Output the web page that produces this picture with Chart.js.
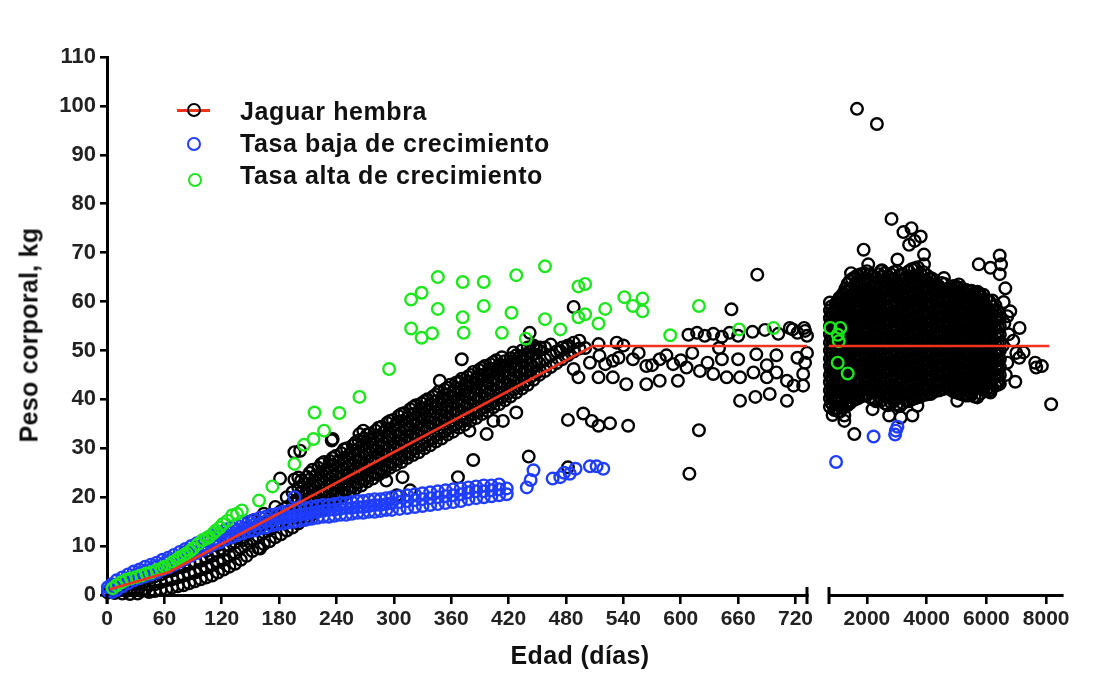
<!DOCTYPE html>
<html><head><meta charset="utf-8">
<script src="https://cdn.jsdelivr.net/npm/chart.js@4.4.1/dist/chart.umd.min.js"></script>
<style>
html,body{margin:0;padding:0;background:#fff;}
#wrap{position:relative;width:1117px;height:682px;overflow:hidden;font-family:"Liberation Sans",Arial,Helvetica,sans-serif;}
canvas{position:absolute;top:0;}
#cL{left:0;}
#cR{left:815px;}
.t{position:absolute;font-weight:bold;color:#111;white-space:nowrap;font-size:25px;line-height:25px;}
.leg{letter-spacing:0.6px;}
.mk{position:absolute;box-sizing:border-box;width:14px;height:14px;border-radius:50%;border:2.6px solid #000;background:transparent;}
</style></head>
<body>
<div id="wrap">
<canvas id="cL" width="830" height="682"></canvas>
<canvas id="cR" width="302" height="682"></canvas>
<div style="position:absolute;left:177px;top:109px;width:33px;height:2.6px;background:#f0321e;"></div>
<div class="mk" style="left:187px;top:103px;"></div>
<div class="mk" style="left:187px;top:136.5px;border-color:#1f3dff;"></div>
<div class="mk" style="left:187.5px;top:173px;border-color:#1ee61e;"></div>
<div class="t leg" style="left:240px;top:98.5px;">Jaguar hembra</div>
<div class="t leg" style="left:240px;top:130.5px;">Tasa baja de crecimiento</div>
<div class="t leg" style="left:240px;top:162.5px;">Tasa alta de crecimiento</div>
<div class="t" style="left:580px;top:643px;transform:translateX(-50%);letter-spacing:0.4px;">Edad (días)</div>
<div class="t" style="left:29px;top:335px;transform:translate(-50%,-50%) rotate(-90deg);letter-spacing:0.3px;">Peso corporal, kg</div>
</div>
<script>
// ---------- tick labels ----------
const yTicks = [0,10,20,30,40,50,60,70,80,90,100,110];
const xTicksLeft = [0,60,120,180,240,300,360,420,480,540,600,660,720];
const xTicksRight = [2000,4000,6000,8000];

// ---------- fitted curve (Jaguar hembra) ----------
const fitAgeLeft = [3, 65, 508, 732];
const fitKgLeft = [1.2, 4.7, 50.9, 50.9];
const fitAgeRight = [730, 8100];
const fitKgRight = [50.9, 50.9];

// ---------- Tasa alta de crecimiento (green) ----------
const highAge = [6,10,15,20,25,31,36,41,46,52,57,60,65,69,73,76,80,83,87,90,95,100,104,107,111,114,118,121,126,131,136,141,159,173,196,206,216,217,227,243,264,295,318,318,329,329,340,346,346,372,372,373,394,394,413,423,428,438,458,458,474,493,493,500,500,514,521,541,550,560,560,589,619,661,697,777,1110,1057,1023,1357,1023];
const highKg = [1.4,2.0,2.6,3.1,3.4,3.7,4.0,4.4,4.6,5.1,5.4,5.8,6.1,6.8,7.2,7.7,8.1,8.5,9.0,9.5,10.4,11.2,11.6,11.9,12.6,13.2,13.8,14.5,15.2,16.3,16.6,17.3,19.3,22.2,26.8,30.7,31.9,37.3,33.6,37.2,40.5,46.2,60.4,54.5,61.8,52.6,53.5,65.0,58.5,64.0,56.8,53.6,64.0,59.1,53.6,57.7,65.4,52.4,67.2,56.4,54.3,63.1,56.8,63.6,57.4,55.5,58.5,60.9,59.1,60.6,58.0,53.1,59.1,54.3,54.6,54.6,54.6,51.9,47.5,45.3,53.2];

// ---------- Tasa baja de crecimiento (blue) ----------
const lowBand = [
 [1,[0.8,1.6]],[5,[0.6,1.4,2.2]],[10,[1.0,2.0,3.0]],[16,[1.8,2.8,3.6]],[22,[2.4,3.4,4.2]],[28,[3.0,3.8,4.8]],
 [34,[3.4,4.4,5.2]],[40,[3.8,4.8,5.8]],[46,[4.2,5.2,6.2]],[52,[4.6,5.8,6.6]],[58,[5.2,6.2,7.2]],[64,[5.6,6.8,7.6]],
 [70,[6.2,7.2,8.2]],[76,[6.8,7.8,8.8]],[82,[7.4,8.4,9.4]],[88,[8.0,9.0,10.0]],[94,[8.6,9.6,10.6]],[100,[9.2,10.2,11.2]],
 [106,[9.8,10.8,11.8]],[112,[10.4,11.4,12.2]],[118,[10.8,12.0,12.8]],[124,[11.4,12.4,13.4]],[130,[11.8,12.8,13.8]],
 [136,[12.2,13.2,14.2]],[142,[12.6,13.6,14.6]],[148,[13.0,14.0,15.0]],[154,[13.2,14.4,15.4]],[160,[13.6,14.6,15.8]],
 [166,[13.8,15.0,16.0]],[172,[14.2,15.2,16.4]],[178,[14.4,15.6,16.6]],[184,[14.6,15.8,17.0]],[190,[14.8,16.0,17.2]],
 [196,[15.0,16.2,17.4]],[202,[15.2,16.4,17.6]],[208,[15.4,16.6,17.8]],[214,[15.6,16.8,18.0]],[220,[15.8,17.0,18.2]],
 [226,[16.0,17.2,18.4]],[232,[16.0,17.4,18.4]],[238,[16.2,17.4,18.6]],[244,[16.4,17.6,18.8]],[250,[16.4,17.8,18.8]],
 [256,[16.6,17.8,19.0]],[262,[16.8,18.0,19.2]],[268,[16.8,18.0,19.2]],[274,[17.0,18.2,19.4]],[280,[17.0,18.4,19.6]],
 [286,[17.2,18.4,19.6]],[292,[17.4,18.6,19.8]],[298,[17.4,18.8,20.0]],[306,[17.6,19.0,20.2]],[314,[17.8,19.2,20.4]],
 [322,[18.0,19.4,20.6]],[330,[18.2,19.6,20.8]],[338,[18.4,19.8,21.0]],[346,[18.6,20.0,21.2]],[354,[18.8,20.2,21.4]],
 [362,[19.0,20.4,21.6]],[370,[19.2,20.6,21.8]],[378,[19.6,21.0,22.0]],[386,[19.8,21.2,22.2]],[394,[20.0,21.2,22.4]],
 [402,[20.2,21.4,22.4]],[410,[20.4,21.6,22.6]],[418,[20.6,21.8]]
];
const lowScatter = [[196,20.0],[439,22.0],[443,23.5],[446,25.5],[466,23.8],[474,24.1],[478,25.0],[484,24.8],[490,25.8],[505,26.3],[512,26.3],[519,25.8],
 [967,27.2],[2222,32.4],[2944,32.8],[2967,33.6],[3022,34.4]];

// ---------- Jaguar hembra (black), first two years ----------
const youngBand = [
 [1,[0.5]],[3,[1.2]],[5,[0.8]],[6,[2.0]],[8,[0.4]],[10,[1.5]],[12,[0.9]],[14,[2.2]],[16,[0.3]],[18,[1.4]],[20,[0.8]],
 [22,[2.4]],[24,[0.2]],[26,[1.5]],[28,[0.9]],[30,[2.8]],[32,[0.3]],[34,[1.6]],[36,[0.8]],[38,[2.6]],[40,[1.2]],
 [44,[0.6,2.0,3.4]],[50,[0.8,2.2,3.8]],[56,[1.0,2.6,4.2]],[62,[1.2,3.0,4.8]],[68,[1.5,3.2,5.0]],[74,[1.8,3.6,5.6]],
 [80,[2.0,4.0,5.8,7.2]],[86,[2.4,4.4,6.4]],[92,[2.8,4.6,6.8,8.6]],[98,[3.2,5.2,7.0]],[104,[3.6,5.6,7.6,9.0]],
 [110,[4.0,6.2,8.0]],[116,[4.6,6.8,8.8,10.2]],[122,[5.2,7.2,9.2]],[128,[5.8,8.0,10.0,11.6]],[134,[6.4,8.6,10.8]],
 [140,[7.2,9.6,11.6,13.0]],[146,[8.0,10.4,12.4]],[152,[9.0,11.4,13.4,15.2]],[158,[9.6,12.0,14.0]],
 [164,[10.4,12.8,14.8,16.6]],[170,[11.0,13.4,15.6]],[176,[11.8,14.2,16.4,18.0]],[182,[12.4,15.0,17.2]],
 [188,[13.2,15.8,18.0,20.0]],[194,[13.8,16.4,18.8,21.0]],[200,[14.6,17.2,19.6,22.0,24.0]],[206,[15.4,18.0,20.4,22.8]],
 [212,[16.0,18.8,21.2,23.6,25.0]],[218,[16.8,19.6,22.0,24.4]],[224,[17.4,20.4,22.8,25.0,26.8]],[230,[18.2,21.0,23.6,25.8]],
 [236,[19.0,21.8,24.4,26.6,28.0]],[242,[19.6,22.6,25.0,27.4]],[248,[20.4,23.2,25.8,28.0,29.8]],[254,[21.0,24.0,26.6,28.8]],
 [260,[21.8,24.8,27.4,29.6,31.2]],[266,[22.4,25.4,28.0,30.4]],[272,[23.2,26.2,28.8,31.0,32.8]],[278,[23.8,27.0,29.6,31.8]],
 [284,[24.6,27.6,30.4,32.6,34.2]],[290,[25.2,28.4,31.0,33.4]],[296,[26.0,29.0,31.8,34.0,35.6]],[302,[26.6,29.8,32.6,34.8]],
 [308,[27.2,30.4,33.2,35.6,37.0]],[314,[28.0,31.2,34.0,36.2]],[320,[28.6,31.8,34.8,37.0,38.4]],[326,[29.2,32.6,35.4,37.6]],
 [332,[30.0,33.2,36.2,38.2,39.6]],[338,[30.6,34.0,36.8,39.0]],[344,[31.4,34.6,37.4,39.6,41.0]],[350,[32.0,35.4,38.2,40.2]],
 [356,[32.8,36.0,38.8,41.0,42.4]],[362,[33.4,36.8,39.6,41.6]],[368,[34.2,37.4,40.2,42.2,43.6]],[374,[34.8,38.2,41.0,43.0]],
 [380,[35.6,38.8,41.6,43.6,45.0]],[386,[36.2,39.6,42.4,44.2]],[392,[37.0,40.2,43.0,45.0,46.4]],[398,[37.6,41.0,43.8,45.6]],
 [404,[38.4,41.6,44.4,46.2,47.6]],[410,[39.0,42.4,45.2,47.0]],[416,[39.8,43.0,45.8,47.8]],[422,[40.6,43.8,46.6,48.4]],
 [428,[41.4,44.4,47.2,49.0]],[434,[42.2,45.2,48.0,50.0]],[440,[43.0,45.8,48.6,50.6]],[446,[44.0,46.6,49.2,51.0]],
 [452,[45.0,47.4,50.0]],[458,[45.8,48.2,50.6]],[464,[46.6,49.0,51.2]],[470,[47.4,49.8]],[476,[48.2,50.6]],
 [482,[49.0,51.0]],[488,[49.8,51.6]],[494,[50.4,52.0]]
];
const youngBandMid = [
 [203,[16.0,18.6,21.0,23.4]],[209,[16.8,19.4,21.8,24.2]],[215,[17.4,20.2,22.6,25.6]],[221,[18.0,21.0,23.4,26.0]],
 [227,[18.8,21.6,24.2,27.2]],[233,[19.4,22.4,25.0,27.4]],[239,[20.2,23.0,25.8,28.4]],[245,[20.8,23.8,26.4,29.0]],
 [251,[21.6,24.4,27.2,30.0]],[257,[22.2,25.2,28.0,30.6]],[263,[23.0,25.8,28.6,31.6]],[269,[23.6,26.6,29.4,32.0]],
 [275,[24.4,27.4,30.2,33.0]],[281,[25.0,28.0,31.0,33.6]],[287,[25.8,28.8,31.6,34.4]],[293,[26.4,29.6,32.4,35.2]],
 [299,[27.2,30.2,33.2,35.8]],[305,[27.8,31.0,33.8,36.6]],[311,[28.6,31.6,34.6,37.2]],[317,[29.2,32.4,35.4,38.0]],
 [323,[30.0,33.0,36.0,38.8]],[329,[30.6,33.8,36.8,39.2]],[335,[31.4,34.4,37.6,40.0]],[341,[32.0,35.2,38.2,40.6]],
 [347,[32.8,35.8,39.0,41.6]],[353,[33.4,36.6,39.6,42.0]],[359,[34.2,37.4,40.4,43.0]],[365,[34.8,38.0,41.0,43.4]],
 [371,[35.6,38.8,41.8,44.2]],[377,[36.2,39.4,42.4,44.6]],[383,[37.0,40.2,43.2,45.6]],[389,[37.6,40.8,43.8,46.0]],
 [395,[38.4,41.6,44.6,46.8]],[401,[39.0,42.2,45.2,47.2]],[407,[39.8,43.0,46.0,48.0]],[413,[40.4,43.6,46.6,48.6]],
 [419,[41.2,44.4,47.2]],[425,[42.0,45.0,47.8,49.6]],[431,[42.8,45.8,48.6]],[437,[43.6,46.4,49.2]],[443,[44.6,47.2,49.8]],
 [449,[45.4,48.0,50.4]]
];
const youngScatter = [[83,8.8],[142,11.2],[160,9.5],[181,23.8],[196,29.2],[202,29.5],[196,23.6],[235,31.6],[236,31.9],
 [264,32.9],[268,33.6],[292,23.4],[309,24.1],[317,21.4],[303,20.4],[348,43.8],[371,48.2],[367,24.1],[383,27.6],[379,33.6],
 [397,32.9],[404,35.6],[414,35.6],[428,37.3],[441,28.3],[442,53.6],[446,50.6],[453,50.6],[474,49.9],[481,50.6],[488,58.9],
 [482,35.8],[482,26.1],[498,37.1],[507,35.6],[514,34.6],[526,35.1],[545,34.6],[609,24.8],[619,33.7],
 [488,46.2],[493,44.5],[514,44.5],[521,47.2],[529,44.5],[535,48.5],[543,43.1],[550,48.2],[564,43.1],[564,46.8],[578,48.2],
 [578,43.8],[592,47.2],[597,43.8],[606,46.5],[620,45.8],[634,45.2],[643,48.2],[648,44.5],[660,48.2],[662,44.5],[676,45.5],
 [690,44.5],[700,45.5],[711,43.8],[718,42.8],[728,45.2],[730,47.5],[728,42.8],[514,51.3],[533,51.6],[515,48.9],[529,47.9],
 [500,50.5],[505,47.5],[540,51.0],[556,49.5],[570,47.0],[585,49.0],[600,48.0],[612,49.5],[628,47.5],
 [608,53.2],[617,53.6],[625,53.0],[634,53.4],[643,52.8],[651,53.6],[660,53.0],[675,53.8],[688,54.2],[702,53.4],[714,54.6],
 [722,53.6],[730,54.0],[732,53.0],[717,54.3],[729,54.6],[662,39.7],[678,40.5],[693,41.1],[711,39.7],
 [653,58.4],[680,65.5],[679,49.2],[700,49.0],[722,48.5],[732,49.5],[640,50.5],[690,47.0]
];

// ---------- Jaguar hembra (black), adults ----------
const adultBand = [
 [760,[38.5,40.2,41.8,43.5,45.0,46.8,48.3,50.0,51.6,53.3,55.0,56.6,58.2,59.8]],
 [850,[36.8,39.0,40.8,42.4,44.2,45.8,47.4,49.2,50.8,52.4,54.0,55.8,57.4]],
 [960,[38.0,39.8,41.4,43.0,44.8,46.4,48.0,49.6,51.4,53.0,54.6,56.2,58.0,59.6]],
 [1080,[37.4,39.2,40.8,42.6,44.2,45.8,47.6,49.2,50.8,52.6,54.2,55.8,57.4,59.2,60.8]],
 [1200,[38.2,40.0,41.6,43.2,45.0,46.6,48.2,50.0,51.6,53.2,55.0,56.6,58.2,60.0,61.6]],
 [1350,[38.8,40.4,42.2,43.8,45.4,47.2,48.8,50.4,52.2,53.8,55.4,57.2,58.8,60.4,62.2,63.6]],
 [1500,[39.6,41.2,42.8,44.6,46.2,47.8,49.6,51.2,52.8,54.6,56.2,57.8,59.6,61.2,62.8,64.6]],
 [1700,[40.2,41.8,43.6,45.2,46.8,48.6,50.2,51.8,53.6,55.2,56.8,58.6,60.2,61.8,63.6,65.4]],
 [1900,[40.8,42.6,44.2,45.8,47.6,49.2,50.8,52.6,54.2,55.8,57.6,59.2,60.8,62.6,64.2,65.8]],
 [2100,[40.4,42.0,43.8,45.4,47.0,48.8,50.4,52.0,53.8,55.4,57.0,58.8,60.4,62.0,63.8,65.6]],
 [2300,[39.6,41.4,43.0,44.6,46.4,48.0,49.6,51.4,53.0,54.6,56.4,58.0,59.6,61.4,63.0,64.8]],
 [2500,[39.8,41.6,43.2,44.8,46.6,48.2,49.8,51.6,53.2,54.8,56.6,58.2,59.8,61.6,63.2,65.0,66.4]],
 [2700,[38.8,40.6,42.2,43.8,45.6,47.2,48.8,50.6,52.2,53.8,55.6,57.2,58.8,60.6,62.2,63.8,65.2]],
 [2900,[39.6,41.2,42.8,44.6,46.2,47.8,49.6,51.2,52.8,54.6,56.2,57.8,59.6,61.2,62.8,64.6,66.0]],
 [3100,[38.6,40.4,42.0,43.6,45.4,47.0,48.6,50.4,52.0,53.6,55.4,57.0,58.6,60.4,62.0,63.6,65.4]],
 [3300,[39.8,41.4,43.2,44.8,46.4,48.2,49.8,51.4,53.2,54.8,56.4,58.2,59.8,61.4,63.2,64.8]],
 [3500,[40.0,41.8,43.4,45.0,46.8,48.4,50.0,51.8,53.4,55.0,56.8,58.4,60.0,61.8,63.4,65.0,66.6]],
 [3700,[40.4,42.0,43.6,45.4,47.0,48.6,50.4,52.0,53.6,55.4,57.0,58.6,60.4,62.0,63.6,65.4,67.0]],
 [3900,[41.0,42.6,44.4,46.0,47.6,49.4,51.0,52.6,54.4,56.0,57.6,59.4,61.0,62.6,64.4,66.0]],
 [4100,[41.2,42.8,44.6,46.2,47.8,49.6,51.2,52.8,54.6,56.2,57.8,59.6,61.2,62.8,64.6]],
 [4300,[41.8,43.4,45.2,46.8,48.4,50.2,51.8,53.4,55.2,56.8,58.4,60.2,61.8,63.6]],
 [4500,[42.0,43.6,45.4,47.0,48.6,50.4,52.0,53.6,55.4,57.0,58.6,60.4,62.0,63.8]],
 [4700,[42.4,44.0,45.8,47.4,49.0,50.8,52.4,54.0,55.8,57.4,59.0,60.8,62.4]],
 [4900,[41.6,43.4,45.0,46.6,48.4,50.0,51.6,53.4,55.0,56.6,58.4,60.0,61.6,63.2]],
 [5100,[41.2,42.8,44.6,46.2,47.8,49.6,51.2,52.8,54.6,56.2,57.8,59.6,61.2,62.8]],
 [5300,[40.8,42.6,44.2,45.8,47.6,49.2,50.8,52.6,54.2,55.8,57.6,59.2,60.8,62.4]],
 [5500,[41.0,42.8,44.4,46.0,47.8,49.4,51.0,52.8,54.4,56.0,57.8,59.4,61.0,62.2]],
 [5700,[40.6,42.4,44.0,45.6,47.4,49.0,50.6,52.4,54.0,55.6,57.4,59.0,60.6,62.0]],
 [5900,[42.0,43.6,45.2,47.0,48.6,50.2,52.0,53.6,55.2,57.0,58.6,60.2,61.4]],
 [6100,[41.8,43.4,45.0,46.8,48.4,50.0,51.8,53.4,55.0,56.8,58.4,60.0]],
 [6300,[42.8,44.6,46.2,47.8,49.6,51.2,52.8,54.6,56.2,57.8,59.2]],
 [6450,[43.2,45.0,46.6,48.2,50.0,51.6,53.2,55.0,56.6]]
];
const adultBandMid = [
 [805,[39.3,41.0,42.6,44.3,45.9,47.6,49.2,50.8,52.5,54.1,55.8,57.4,59.0]],
 [905,[37.8,39.9,41.6,43.2,45.0,46.6,48.2,50.0,51.6,53.2,54.8,56.6,58.2]],
 [1020,[38.2,40.0,41.6,43.4,45.0,46.6,48.4,50.0,51.6,53.4,55.0,56.6,58.4,60.0]],
 [1140,[38.6,40.4,42.0,43.8,45.4,47.0,48.8,50.4,52.0,53.8,55.4,57.0,58.8,60.6]],
 [1275,[39.0,40.8,42.4,44.0,45.8,47.4,49.0,50.8,52.4,54.0,55.8,57.4,59.0,60.8,62.6]],
 [1425,[39.2,41.0,42.6,44.2,46.0,47.6,49.2,51.0,52.6,54.2,56.0,57.6,59.2,61.0,62.6,64.2]],
 [1600,[40.0,41.6,43.2,45.0,46.6,48.2,50.0,51.6,53.2,55.0,56.6,58.2,60.0,61.6,63.2,65.0]],
 [1800,[40.6,42.2,43.8,45.6,47.2,48.8,50.6,52.2,53.8,55.6,57.2,58.8,60.6,62.2,63.8,65.6]],
 [2000,[41.0,42.6,44.4,46.0,47.6,49.4,51.0,52.6,54.4,56.0,57.6,59.4,61.0,62.6,64.4,66.2]],
 [2200,[40.0,41.6,43.4,45.0,46.6,48.4,50.0,51.6,53.4,55.0,56.6,58.4,60.0,61.6,63.4,65.2]],
 [2400,[40.4,42.2,43.8,45.4,47.2,48.8,50.4,52.2,53.8,55.4,57.2,58.8,60.4,62.2,63.8,65.6]],
 [2600,[39.2,41.0,42.6,44.2,46.0,47.6,49.2,51.0,52.6,54.2,56.0,57.6,59.2,61.0,62.6,64.2,65.8]],
 [2800,[39.4,41.0,42.6,44.4,46.0,47.6,49.4,51.0,52.6,54.4,56.0,57.6,59.4,61.0,62.6,64.4,65.6]],
 [3000,[39.0,40.8,42.4,44.0,45.8,47.4,49.0,50.8,52.4,54.0,55.8,57.4,59.0,60.8,62.4,64.0,66.2]],
 [3200,[39.2,41.0,42.6,44.2,46.0,47.6,49.2,51.0,52.6,54.2,56.0,57.6,59.2,61.0,62.6,64.2,65.6]],
 [3400,[39.6,41.2,42.8,44.6,46.2,47.8,49.6,51.2,52.8,54.6,56.2,57.8,59.6,61.2,62.8,64.6,66.2]],
 [3600,[40.2,41.8,43.4,45.2,46.8,48.4,50.2,51.8,53.4,55.2,56.8,58.4,60.2,61.8,63.4,65.2,66.8]],
 [3800,[40.6,42.4,44.0,45.6,47.4,49.0,50.6,52.4,54.0,55.6,57.4,59.0,60.6,62.4,64.0,65.6]],
 [4000,[41.0,42.6,44.2,46.0,47.6,49.2,51.0,52.6,54.2,56.0,57.6,59.2,61.0,62.6,64.2,65.4]],
 [4200,[41.4,43.2,44.8,46.4,48.2,49.8,51.4,53.2,54.8,56.4,58.2,59.8,61.4,63.2,64.6]],
 [4400,[41.8,43.4,45.0,46.8,48.4,50.0,51.8,53.4,55.0,56.8,58.4,60.0,61.8,63.2]],
 [4600,[42.2,43.8,45.6,47.2,48.8,50.6,52.2,53.8,55.6,57.2,58.8,60.6,62.2,63.6]],
 [4800,[42.0,43.6,45.4,47.0,48.6,50.4,52.0,53.6,55.4,57.0,58.6,60.4,62.0,63.0]],
 [5000,[41.4,43.0,44.8,46.4,48.0,49.8,51.4,53.0,54.8,56.4,58.0,59.8,61.4,63.0]],
 [5200,[41.0,42.6,44.4,46.0,47.6,49.4,51.0,52.6,54.4,56.0,57.6,59.4,61.0,62.6]],
 [5400,[40.8,42.4,44.0,45.8,47.4,49.0,50.8,52.4,54.0,55.8,57.4,59.0,60.8,62.2]],
 [5600,[40.6,42.2,43.8,45.6,47.2,48.8,50.6,52.2,53.8,55.6,57.2,58.8,60.6,61.8]],
 [5800,[41.2,43.0,44.6,46.2,48.0,49.6,51.2,53.0,54.6,56.2,58.0,59.6,61.0]],
 [6000,[42.0,43.8,45.4,47.0,48.8,50.4,52.0,53.8,55.4,57.0,58.8,60.4]],
 [6200,[42.4,44.0,45.8,47.4,49.0,50.8,52.4,54.0,55.8,57.4,59.0,60.2]],
 [6380,[43.0,44.8,46.4,48.0,49.8,51.4,53.0,54.8,56.4,58.0]]
];
const adultScatter = [[1667,99.4],[2333,96.3],[2823,76.9],[3222,74.2],[3490,75.0],[3800,73.3],[3411,71.6],[3911,69.6],
 [3911,67.6],[3600,72.4],[1890,70.6],[1467,65.8],[2044,67.6],[3022,68.6],[1023,59.7],[1133,58.4],[1578,61.4],[5744,67.6],
 [6133,66.9],[6444,69.4],[6490,67.6],[6444,65.6],[5778,61.6],[6633,62.7],[6578,59.9],[6800,58.0],[7111,54.6],[5077,63.5],
 [4578,64.8],[4133,64.8],[2467,66.2],[6744,53.3],[7244,49.6],[7633,47.5],[7856,46.8],[7667,46.5],[8167,39.0],[6967,43.6],
 [6411,43.8],[6300,49.2],[6133,41.4],[5689,40.4],[5022,39.7],[4800,42.4],[4244,41.8],[4133,41.1],[3689,38.7],[3522,36.7],
 [3133,36.3],[2744,36.7],[2189,38.0],[3078,38.7],[1578,32.9],[1244,35.6],[1244,36.7],[6700,57.0],[6600,55.5],[6900,52.0],
 [6550,51.0],[6700,47.5],[6650,45.0],[7000,49.5],[7100,48.5]];

// ---------- helpers ----------
const FONT = "'Liberation Sans', Arial, Helvetica, sans-serif";
const pts = (ages, kgs) => ages.map((a, i) => ({x: a, y: kgs[i]}));
const fromCols = list => { const o = []; list.forEach(([a, ws]) => ws.forEach(w => o.push({x: a, y: w}))); return o; };
const fromPairs = list => list.map(([a, w]) => ({x: a, y: w}));
const inRange = (arr, lo, hi) => arr.filter(p => p.x >= lo && p.x <= hi);

const BLACK = '#000000', BLUE = '#1f3dff', GREEN = '#1ee61e', RED = '#f0321e';
function ring(label, data, color) {
  return {type: 'scatter', label, data, showLine: false, pointStyle: 'circle', pointRadius: 5.8,
    pointBorderWidth: 2.4, borderColor: color, pointBorderColor: color, backgroundColor: 'rgba(0,0,0,0)',
    pointBackgroundColor: 'rgba(0,0,0,0)', clip: false};
}
function fit(data) {
  return {type: 'line', label: 'fit', data, borderColor: RED, borderWidth: 2.6, pointRadius: 0,
    fill: false, tension: 0, clip: false};
}

const highAll = pts(highAge, highKg);
const lowAll = fromCols(lowBand).concat(fromPairs(lowScatter));
const youngAll = fromCols(youngBand).concat(fromCols(youngBandMid), fromPairs(youngScatter));
const adultAll = fromCols(adultBand).concat(fromCols(adultBandMid), fromPairs(adultScatter));

const tickFontX = {family: FONT, size: 21, weight: 'bold'};
const tickFontY = {family: FONT, size: 22, weight: 'bold'};
const plainLabel = v => String(v);
const axisGrid = len => ({display: true, drawOnChartArea: false, drawTicks: true, tickLength: len, lineWidth: 2.6, color: '#000'});
const axisBorder = {display: true, color: '#000', width: 3};

const capPlugin = {
  id: 'caps',
  afterDraw(chart, args, opts) {
    const {ctx, chartArea} = chart;
    ctx.save();
    ctx.strokeStyle = '#000';
    ctx.lineWidth = 3;
    ctx.beginPath();
    const x = opts.side === 'right' ? chartArea.right : chartArea.left;
    ctx.moveTo(x, chartArea.bottom - 8);
    ctx.lineTo(x, chartArea.bottom + 9);
    if (opts.side === 'right') {
      ctx.moveTo(chartArea.left, chartArea.bottom - 1);
      ctx.lineTo(chartArea.left, chartArea.bottom + 9);
    }
    ctx.stroke();
    ctx.restore();
  }
};

// ---------- left panel: 0-730 days ----------
new Chart(document.getElementById('cL'), {
  data: {datasets: [
    fit(pts(fitAgeLeft, fitKgLeft)),
    ring('Tasa alta de crecimiento', inRange(highAll, 0, 735), GREEN),
    ring('Tasa baja de crecimiento', inRange(lowAll, 0, 735), BLUE),
    ring('Jaguar hembra', youngAll, BLACK)
  ]},
  options: {
    responsive: false, animation: false, events: [],
    layout: {padding: {left: 0, right: 23, top: 57, bottom: 0}},
    plugins: {legend: {display: false}, tooltip: {enabled: false}, caps: {side: 'right'}},
    scales: {
      x: {type: 'linear', min: 0, max: 732,
        afterBuildTicks: s => { s.ticks = xTicksLeft.map(v => ({value: v})); },
        afterFit: s => { s.height = 87; },
        ticks: {font: tickFontX, color: '#222', padding: 3, maxRotation: 0, autoSkip: false, callback: plainLabel},
        grid: axisGrid(9), border: axisBorder},
      y: {type: 'linear', min: 0, max: 110,
        afterBuildTicks: s => { s.ticks = yTicks.map(v => ({value: v})); },
        afterFit: s => { s.width = 107; },
        ticks: {font: tickFontY, color: '#222', padding: 4, callback: plainLabel},
        grid: axisGrid(7), border: axisBorder}
    }
  },
  plugins: [capPlugin]
});

// ---------- right panel: adults ----------
new Chart(document.getElementById('cR'), {
  data: {datasets: [
    fit(pts(fitAgeRight, fitKgRight)),
    ring('Tasa alta de crecimiento', inRange(highAll, 736, 9000), GREEN),
    ring('Tasa baja de crecimiento', inRange(lowAll, 736, 9000), BLUE),
    ring('Jaguar hembra', adultAll, BLACK)
  ]},
  options: {
    responsive: false, animation: false, events: [],
    layout: {padding: {left: 14, right: 55, top: 57, bottom: 0}},
    plugins: {legend: {display: false}, tooltip: {enabled: false}, caps: {side: 'left'}},
    scales: {
      x: {type: 'linear', min: 730, max: 8530,
        afterBuildTicks: s => { s.ticks = xTicksRight.map(v => ({value: v})); },
        afterFit: s => { s.height = 87; },
        ticks: {font: tickFontX, color: '#222', padding: 3, maxRotation: 0, autoSkip: false, callback: plainLabel},
        grid: axisGrid(9), border: axisBorder},
      y: {type: 'linear', min: 0, max: 110, display: false}
    }
  },
  plugins: [capPlugin]
});
</script>
</body></html>
